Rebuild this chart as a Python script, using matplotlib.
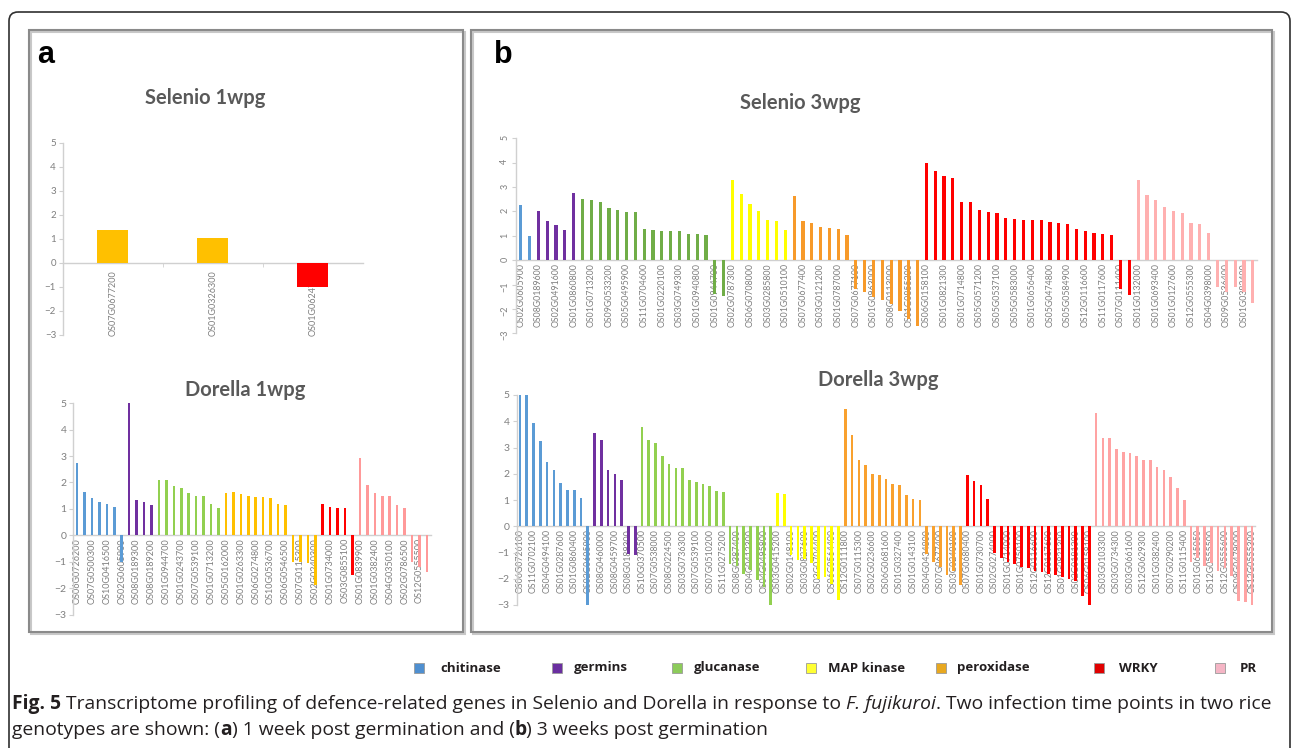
import matplotlib

matplotlib.use("Agg")
import matplotlib.pyplot as plt
import numpy as np
from matplotlib.patches import FancyBboxPatch, Rectangle

W, H = 1292, 748

GROUPS = ["chitinase", "germins", "glucanase", "MAP kinase", "peroxidase", "WRKY", "PR"]

# bars per gene family, in GROUPS order
sel1_sizes = [0, 0, 0, 0, 2, 1, 0]
sel1_values = [1.38, 1.02, -1.02]
sel1_labels = ["OS07G0677200", "OS01G0326300", "OS01G0624700"]

dor1_sizes = [7, 4, 9, 0, 13, 5, 10]
dor1_values = [
    2.75, 1.65, 1.4, 1.25, 1.2, 1.07, -1.0,
    5.0, 1.35, 1.27, 1.15,
    2.1, 2.1, 1.87, 1.8, 1.62, 1.5, 1.5, 1.2, 1.02,
    1.62, 1.65, 1.55, 1.5, 1.45, 1.45, 1.42, 1.17, 1.15, -1.0, -1.02, -1.05, -1.9,
    1.17, 1.07, 1.02, 1.02, -1.5,
    2.92, 1.9, 1.62, 1.5, 1.47, 1.15, 1.05, -1.02, -1.2, -1.4,
]
dor1_labels = [
    "OS06G0726200", "OS07G0500300", "OS10G0416500", "OS02G0605900", "OS08G0189300",
    "OS08G0189200", "OS01G0944700", "OS01G0243700", "OS07G0539100", "OS01G0713200",
    "OS05G0162000", "OS01G0263300", "OS06G0274800", "OS10G0536700", "OS06G0546500",
    "OS07G0115300", "OS02G0240300", "OS01G0734000", "OS03G0855100", "OS01G0839900",
    "OS01G0382400", "OS04G0350100", "OS02G0786500", "OS12G0555500",
]

sel3_sizes = [2, 5, 17, 7, 15, 24, 14]
sel3_values = [
    2.27, 1.0,
    2.0, 1.59, 1.44, 1.22, 2.75,
    2.5, 2.46, 2.38, 2.14, 2.05, 1.97, 1.97, 1.27, 1.25, 1.2, 1.2, 1.2, 1.06, 1.06, 1.02, -1.4, -1.47,
    3.27, 2.7, 2.3, 2.0, 1.63, 1.6, 1.24,
    2.65, 1.6, 1.52, 1.37, 1.32, 1.28, 1.03, -1.2, -1.3, -1.5, -1.62, -1.78, -2.08, -2.4, -2.72,
    3.97, 3.67, 3.47, 3.36, 2.37, 2.37, 2.04, 1.96, 1.93, 1.73, 1.7, 1.65,
    1.65, 1.65, 1.55, 1.51, 1.48, 1.27, 1.18, 1.1, 1.07, 1.02, -1.17, -1.43,
    3.29, 2.69, 2.48, 2.18, 2.01, 1.93, 1.51, 1.48, 1.1, -1.09, -1.3, -1.1, -1.3, -1.77,
]
sel3_labels = [
    "OS02G0605900", "OS08G0189600", "OS02G0491600", "OS01G0860800", "OS01G0713200",
    "OS09G0533200", "OS05G0495900", "OS11G0704600", "OS01G0220100", "OS03G0749300",
    "OS01G0940800", "OS01G0944700", "OS02G0787300", "OS06G0708000", "OS03G0285800",
    "OS01G0510100", "OS07G0677400", "OS03G0121200", "OS01G0787000", "OS07G0677100",
    "OS01G0963000", "OS08G0113000", "OS01G0855200", "OS06G0158100", "OS01G0821300",
    "OS01G0714800", "OS05G0571200", "OS05G0537100", "OS05G0583000", "OS01G0656400",
    "OS05G0474800", "OS05G0584900", "OS12G0116600", "OS11G0117600", "OS07G0111400",
    "OS01G0132000", "OS01G0693400", "OS01G0127600", "OS12G0555300", "OS04G0398000",
    "OS09G0536400", "OS01G0382400",
]

dor3_sizes = [11, 7, 20, 10, 18, 19, 24]
dor3_values = [
    5.0, 5.0, 3.92, 3.25, 2.44, 2.15, 1.65, 1.38, 1.38, 1.08, -3.0,
    3.57, 3.28, 2.15, 2.0, 1.75, -1.05, -1.1,
    3.8, 3.27, 3.17, 2.68, 2.38, 2.22, 2.22, 1.76, 1.67, 1.62, 1.52, 1.35, 1.29,
    -1.45, -1.5, -1.8, -1.65, -2.05, -2.3, -3.0,
    1.27, 1.24, -1.1, -1.3, -1.25, -1.4, -2.0, -1.95, -2.2, -2.8,
    4.47, 3.48, 2.52, 2.33, 1.99, 1.96, 1.8, 1.62, 1.58, 1.18, 1.04, 1.0,
    -1.05, -1.35, -1.55, -1.85, -1.7, -2.25,
    1.96, 1.72, 1.58, 1.04, -1.0, -1.2, -1.35, -1.45, -1.55, -1.6, -1.7, -1.75,
    -1.8, -1.85, -1.95, -2.0, -2.1, -2.65, -3.0,
    4.3, 3.35, 3.35, 2.94, 2.84, 2.78, 2.67, 2.53, 2.53, 2.27, 2.15, 1.89, 1.44, 1.0,
    -1.35, -1.2, -1.5, -1.4, -1.7, -1.6, -1.9, -2.85, -2.9, -3.0,
]
dor3_labels = [
    "OS06G0726100", "OS11G0702100", "OS04G0494100", "OS01G0287600", "OS01G0860400",
    "OS02G0605900", "OS08G0460000", "OS08G0459700", "OS08G0189300", "OS10G0370500",
    "OS07G0538000", "OS08G0224500", "OS03G0736300", "OS07G0539100", "OS07G0510200",
    "OS11G0275200", "OS08G0387400", "OS04G0412300", "OS04G0495800", "OS03G0415200",
    "OS02G0148100", "OS03G0827600", "OS03G0704400", "OS06G0564400", "OS12G0111800",
    "OS07G0115300", "OS02G0236600", "OS06G0681600", "OS01G0327400", "OS01G0143100",
    "OS04G0434800", "OS07G0677400", "OS03G0240100", "OS07G0680400", "OS01G0730700",
    "OS02G0274000", "OS01G0714000", "OS01G0750100", "OS12G0116600", "OS12G0117600",
    "OS01G0821300", "OS02G0181300", "OS06G0158100", "OS03G0103300", "OS03G0734300",
    "OS03G0661600", "OS12G0629300", "OS01G0382400", "OS07G0290200", "OS11G0115400",
    "OS01G0615050", "OS12G0555500", "OS12G0555600", "OS09G0479000", "OS12G0555300",
]

PALETTE_A = ["#5B9BD5", "#7030A0", "#92D050", "#FFFF00", "#FFC000", "#FF0000", "#FF9999"]
PALETTE_SEL3 = ["#5B9BD5", "#7030A0", "#70AD47", "#FFFF00", "#F79A2A", "#FF0000", "#FFB0B0"]
PALETTE_DOR3 = ["#5B9BD5", "#7030A0", "#92D050", "#FFFF00", "#F9A12E", "#FF0000", "#FFA3A3"]
LEGEND_COLORS = ["#4F8FD0", "#6A2FA0", "#8CCB5A", "#FFFF33", "#E8A820", "#E00000", "#F5B5C5"]

AXIS_GRAY = "#D0D0D0"
LABEL_GRAY = "#7F7F7F"
TITLE_GRAY = "#595959"

plt.rcParams["font.family"] = ["Lato", "DejaVu Sans"]


def draw_chart(fig, box, values, sizes, labels, palette, width, step, ysize, xsize, rotate_y=False):
    left, right, top, bottom = box
    ax = fig.add_axes([left / W, 1 - bottom / H, (right - left) / W, (bottom - top) / H])
    ax.patch.set_alpha(0)
    colors = list(np.repeat(palette, sizes))
    x = np.arange(len(values))
    ax.bar(x, values, width=width, color=colors, zorder=3)
    ax.set_xlim(-0.5, len(values) - 0.5)
    ax.set_ylim(-3, 5)
    ax.set_yticks(range(-3, 6))
    ax.set_xticks(x[::step], labels=labels)
    ax.spines[["top", "right"]].set_visible(False)
    ax.spines["bottom"].set_position(("data", 0))
    for side in ("bottom", "left"):
        ax.spines[side].set_color(AXIS_GRAY)
        ax.spines[side].set_linewidth(1.0)
    ax.tick_params(axis="x", length=0, pad=2, labelsize=xsize, labelcolor=LABEL_GRAY, labelrotation=90)
    ax.tick_params(axis="y", length=3, width=0.8, color=AXIS_GRAY, labelsize=ysize,
                   labelcolor=LABEL_GRAY, pad=2, labelrotation=90 if rotate_y else 0)
    return ax


def run_width(ov, renderer, s, **kw):
    t1 = ov.text(0, 0, "|" + s + "|", **kw)
    t2 = ov.text(0, 0, "||", **kw)
    w = t1.get_window_extent(renderer).width - t2.get_window_extent(renderer).width
    t1.remove()
    t2.remove()
    return w


def draw_runs(ov, renderer, x, y, runs, size, family):
    for s, weight, style in runs:
        kw = dict(fontsize=size, fontweight=weight, fontstyle=style, family=family, color="#231F20")
        ov.text(x, y, s, va="baseline", ha="left", **kw)
        x += run_width(ov, renderer, s, **kw)


def main():
    fig = plt.figure(figsize=(W / 100, H / 100), dpi=100)
    fig.patch.set_facecolor("white")

    ov = fig.add_axes([0, 0, 1, 1])
    ov.set_xlim(0, W)
    ov.set_ylim(H, 0)
    ov.axis("off")
    ov.set_zorder(-1)

    # frames
    ov.add_patch(FancyBboxPatch((9, 12), 1281, 760, boxstyle="round,pad=0,rounding_size=9",
                                fill=False, ec="#303030", lw=1.2))
    for x0, w in ((29, 434), (471, 801)):
        ov.add_patch(Rectangle((x0 + 2, 32), w, 602, fill=False, ec="#C8C8C8", lw=1.5))
        ov.add_patch(Rectangle((x0, 30), w, 602, fill=False, ec="#8A8A8A", lw=1.5))

    ov.text(37, 63, "a", fontsize=22, fontweight="bold", family="Liberation Sans", va="baseline")
    ov.text(494, 63, "b", fontsize=22, fontweight="bold", family="Liberation Sans", va="baseline")

    title_kw = dict(ha="center", va="center", fontsize=14.5, fontweight="bold", color=TITLE_GRAY)
    ov.text(205, 98, "Selenio 1wpg", **title_kw)
    ov.text(245, 390, "Dorella 1wpg", **title_kw)
    ov.text(800, 103, "Selenio 3wpg", **title_kw)
    ov.text(878, 380, "Dorella 3wpg", **title_kw)

    ax = draw_chart(fig, (63, 363, 142.7, 335), sel1_values, sel1_sizes, sel1_labels,
                    PALETTE_A, 0.31, 1, 7, 6.5)
    ax.set_xticks([0.5, 1.5], minor=True)
    ax.tick_params(axis="x", which="minor", length=3, color=AXIS_GRAY)
    ax.tick_params(axis="x", which="major", pad=5)

    draw_chart(fig, (73.3, 430.7, 403.3, 614.5), dor1_values, dor1_sizes, dor1_labels,
               PALETTE_A, 0.35, 2, 7.5, 6.5)
    draw_chart(fig, (516.3, 1257.2, 138.3, 333.3), sel3_values, sel3_sizes, sel3_labels,
               PALETTE_SEL3, 0.36, 2, 6.5, 6.3, rotate_y=True)
    draw_chart(fig, (516.6, 1255.4, 395, 605), dor3_values, dor3_sizes, dor3_labels,
               PALETTE_DOR3, 0.38, 2, 7.5, 6.3)

    # legend
    square_x = [419, 557, 677, 811, 941, 1099, 1220]
    text_x = [440, 574, 694, 828, 957, 1119, 1240]
    for name, color, sx, tx in zip(GROUPS, LEGEND_COLORS, square_x, text_x):
        ov.add_patch(Rectangle((sx - 5, 663), 10, 10, fc=color, ec="#9A9A9A", lw=0.6))
        ov.text(tx, 668, name, va="center", ha="left", fontsize=9.5, fontweight="bold",
                family="Open Sans", color="#231F20")

    # caption
    renderer = fig.canvas.get_renderer()
    line1 = [
        ("Fig. 5", "bold", "normal"),
        (" Transcriptome profiling of defence-related genes in Selenio and Dorella in response to ",
         "normal", "normal"),
        ("F. fujikuroi", "normal", "italic"),
        (". Two infection time points in two rice", "normal", "normal"),
    ]
    line2 = [
        ("genotypes are shown: (", "normal", "normal"),
        ("a", "bold", "normal"),
        (") 1 week post germination and (", "normal", "normal"),
        ("b", "bold", "normal"),
        (") 3 weeks post germination", "normal", "normal"),
    ]
    family = "Open Sans"
    total = sum(run_width(ov, renderer, s, fontsize=10, fontweight=wt, fontstyle=st, family=family)
                for s, wt, st in line1)
    size = 10 * (1259 / total)
    draw_runs(ov, renderer, 12, 709, line1, size, family)
    draw_runs(ov, renderer, 12, 735, line2, size, family)

    fig.savefig("out.png", dpi=100, facecolor="white")
    plt.close(fig)


if __name__ == "__main__":
    main()
